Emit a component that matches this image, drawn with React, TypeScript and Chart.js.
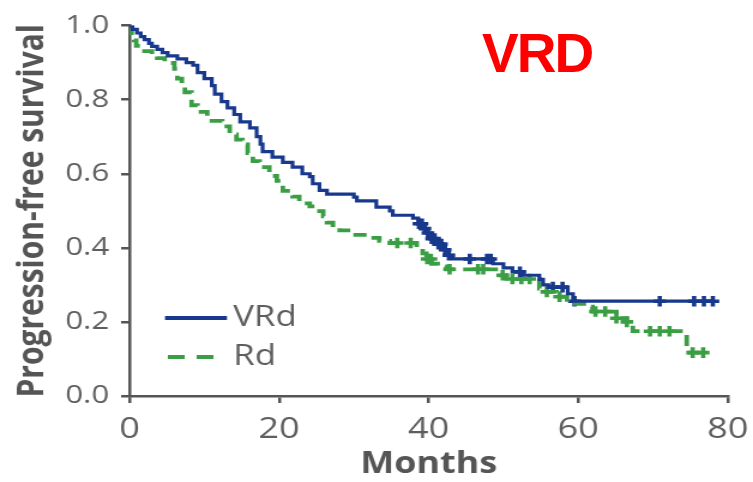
import { useEffect, useRef } from "react";
import { Chart, registerables } from "chart.js";

Chart.register(...registerables);

// Kaplan–Meier steps: time of each drop (months) and survival after it
const vrdTimes = [0, 0.4, 1.0, 1.5, 2.0, 2.6, 3.0, 3.7, 4.4, 5.1, 6.4, 7.6, 8.5, 9.1, 10.0, 11.0, 11.4, 12.3, 13.1, 14.0, 14.8, 16.1, 17.0, 17.5, 17.8, 19.1, 20.5, 21.8, 23.1, 24.1, 24.5, 25.4, 26.4, 30.0, 30.4, 33.0, 34.8, 35.2, 37.9, 38.6, 39.2, 39.7, 40.3, 41.1, 41.8, 42.4, 43.2, 48.6, 50.0, 51.2, 52.6, 54.8, 55.3, 56.0, 58.6, 59.3, 78.0];
const vrdSurvival = [1.0, 0.99, 0.98, 0.97, 0.962, 0.952, 0.944, 0.936, 0.927, 0.918, 0.91, 0.9, 0.893, 0.873, 0.857, 0.838, 0.815, 0.795, 0.778, 0.76, 0.74, 0.724, 0.7, 0.68, 0.66, 0.645, 0.631, 0.618, 0.6, 0.592, 0.573, 0.555, 0.545, 0.537, 0.527, 0.51, 0.5, 0.488, 0.48, 0.465, 0.452, 0.44, 0.425, 0.41, 0.395, 0.38, 0.37, 0.357, 0.346, 0.335, 0.326, 0.315, 0.3, 0.294, 0.276, 0.256, 0.256];
const vrdCensored = [38.7, 39.1, 39.5, 39.9, 40.4, 40.8, 41.3, 41.7, 42.2, 42.7, 45.5, 47.8, 48.3, 52.2, 56.6, 57.9, 59.5, 70.9, 75.5, 76.8, 78.0];

const rdTimes = [0, 0.3, 0.6, 0.9, 2.0, 3.0, 3.7, 4.7, 6.0, 6.4, 7.0, 7.4, 8.3, 9.1, 10.4, 12.4, 13.4, 14.3, 15.1, 15.8, 16.5, 17.4, 18.7, 19.7, 20.5, 21.8, 22.7, 24.1, 25.4, 25.9, 26.4, 27.2, 28.1, 29.8, 31.7, 33.4, 34.8, 38.4, 39.2, 39.7, 40.4, 41.2, 42.4, 49.5, 50.4, 54.8, 55.8, 57.1, 58.5, 61.2, 61.9, 65.1, 66.5, 67.3, 74.5, 76.8];
const rdSurvival = [1.0, 0.98, 0.96, 0.945, 0.931, 0.92, 0.912, 0.899, 0.883, 0.857, 0.84, 0.82, 0.785, 0.767, 0.743, 0.728, 0.706, 0.692, 0.679, 0.656, 0.634, 0.618, 0.594, 0.581, 0.554, 0.538, 0.52, 0.512, 0.499, 0.485, 0.468, 0.456, 0.447, 0.435, 0.427, 0.419, 0.413, 0.4, 0.385, 0.37, 0.357, 0.35, 0.342, 0.326, 0.316, 0.29, 0.281, 0.268, 0.249, 0.241, 0.228, 0.21, 0.2, 0.175, 0.117, 0.117];
const rdCensored = [35.8, 37.6, 39.8, 40.3, 42.8, 46.6, 47.3, 49.9, 51.2, 52.4, 53.5, 55.8, 57.5, 62.3, 63.6, 65.1, 66.5, 69.6, 70.9, 72.2, 75.3, 76.7];

const xTicks = [0, 20, 40, 60, 80];
const yTicks = [0, 0.2, 0.4, 0.6, 0.8, 1.0];

const BLUE = "#17388c";
const GREEN = "#3b9e45";
const AXIS = "#555555";
const TICK_TEXT = "#5e5e5e";
const FONT = "'Open Sans', 'DejaVu Sans', sans-serif";

// The figure is drawn on a narrower canvas and widened horizontally
const LOGICAL_W = 628;
const H = 482;
const STRETCH = 753 / LOGICAL_W;

function survivalAt(times: number[], surv: number[], t: number): number {
  let s = surv[0];
  for (let i = 0; i < times.length; i++) {
    if (times[i] <= t) s = surv[i];
  }
  return s;
}

const kmLegend = {
  id: "kmLegend",
  afterDraw(chart: any) {
    const { ctx } = chart;
    const rows = [
      { index: 0, y: 318, x0: 137.6, x1: 189.3, dash: [] as number[] },
      { index: 1, y: 357, x0: 140, x1: 178, dash: [14, 10] },
    ];
    ctx.save();
    for (const r of rows) {
      const ds = chart.data.datasets[r.index];
      ctx.strokeStyle = ds.borderColor;
      ctx.lineWidth = 4;
      ctx.setLineDash(r.dash);
      ctx.beginPath();
      ctx.moveTo(r.x0, r.y);
      ctx.lineTo(r.x1, r.y);
      ctx.stroke();
      ctx.setLineDash([]);
      ctx.fillStyle = TICK_TEXT;
      ctx.font = `29px ${FONT}`;
      ctx.textBaseline = "middle";
      ctx.textAlign = "left";
      ctx.fillText(ds.label, 194.5, r.y);
    }
    ctx.restore();
  },
};

export default function App() {
  const canvasRef = useRef<HTMLCanvasElement | null>(null);

  useEffect(() => {
    const canvas = canvasRef.current;
    if (!canvas) return;

    const vrdLine = vrdTimes.map((t, i) => ({ x: t, y: vrdSurvival[i] }));
    const rdLine = rdTimes.map((t, i) => ({ x: t, y: rdSurvival[i] }));
    const vrdMarks = vrdCensored.map((t) => ({ x: t, y: survivalAt(vrdTimes, vrdSurvival, t) }));
    const rdMarks = rdCensored.map((t) => ({ x: t, y: survivalAt(rdTimes, rdSurvival, t) }));

    const chart = new Chart(canvas, {
      type: "line",
      data: {
        datasets: [
          {
            label: "VRd",
            data: vrdLine,
            borderColor: BLUE,
            borderWidth: 3.2,
            stepped: "before",
            pointRadius: 0,
            fill: false,
          },
          {
            label: "Rd",
            data: rdLine,
            borderColor: GREEN,
            borderWidth: 3.8,
            borderDash: [11, 7],
            stepped: "before",
            pointRadius: 0,
            fill: false,
          },
          {
            label: "VRd censored",
            data: vrdMarks,
            showLine: false,
            pointStyle: "cross",
            pointRadius: 5.3,
            pointBorderWidth: 3.6,
            pointBorderColor: BLUE,
            borderColor: BLUE,
          },
          {
            label: "Rd censored",
            data: rdMarks,
            showLine: false,
            pointStyle: "cross",
            pointRadius: 5.3,
            pointBorderWidth: 3.6,
            pointBorderColor: GREEN,
            borderColor: GREEN,
          },
        ],
      },
      options: {
        animation: false,
        responsive: false,
        maintainAspectRatio: false,
        devicePixelRatio: 1,
        layout: { padding: { top: 19, right: 21, left: 0, bottom: 0 } },
        plugins: {
          legend: { display: false },
          tooltip: { enabled: false },
        },
        scales: {
          x: {
            type: "linear",
            min: 0,
            max: 80,
            afterBuildTicks: (scale: any) => {
              scale.ticks = xTicks.map((v) => ({ value: v }));
            },
            afterFit: (scale: any) => {
              scale.height = 86;
              scale.paddingLeft = 0;
              scale.paddingRight = 0;
            },
            ticks: {
              color: TICK_TEXT,
              font: { family: FONT, size: 30 },
              padding: 8,
              maxRotation: 0,
            },
            grid: {
              drawOnChartArea: false,
              drawTicks: true,
              tickLength: 7,
              color: AXIS,
              lineWidth: 2.5,
            },
            border: { display: true, color: AXIS, width: 2.5 },
            title: {
              display: true,
              text: "Months",
              color: AXIS,
              font: { family: FONT, size: 30, weight: "bold" },
              padding: { top: 0, bottom: 0 },
            },
          },
          y: {
            type: "linear",
            min: 0,
            max: 1,
            afterBuildTicks: (scale: any) => {
              scale.ticks = yTicks.map((v) => ({ value: v }));
            },
            afterFit: (scale: any) => {
              scale.width = 108;
            },
            ticks: {
              color: TICK_TEXT,
              font: { family: FONT, size: 26 },
              padding: 10,
              callback: (v: any) => Number(v).toFixed(1),
            },
            grid: {
              drawOnChartArea: false,
              drawTicks: true,
              tickLength: 7,
              color: AXIS,
              lineWidth: 2.5,
            },
            border: { display: true, color: AXIS, width: 2.5 },
            title: {
              display: true,
              text: "Progression-free survival",
              color: AXIS,
              font: { family: FONT, size: 30, weight: "bold" },
              padding: { top: 9, bottom: 0 },
            },
          },
        },
      },
      plugins: [kmLegend],
    } as any);

    return () => chart.destroy();
  }, []);

  return (
    <div style={{ position: "fixed", left: 0, top: 0, width: 753, height: H, background: "#ffffff", overflow: "hidden" }}>
      <div
        style={{
          position: "absolute",
          left: 0,
          top: 0,
          width: LOGICAL_W,
          height: H,
          transform: `scaleX(${STRETCH})`,
          transformOrigin: "0 0",
        }}
      >
        <canvas ref={canvasRef} width={LOGICAL_W} height={H} />
      </div>
      <div
        style={{
          position: "absolute",
          left: 482,
          top: 26,
          fontFamily: "'Liberation Sans', Arial, sans-serif",
          fontWeight: "bold",
          fontSize: 55,
          lineHeight: 1,
          letterSpacing: -2,
          color: "#ff0000",
        }}
      >
        VRD
      </div>
    </div>
  );
}
